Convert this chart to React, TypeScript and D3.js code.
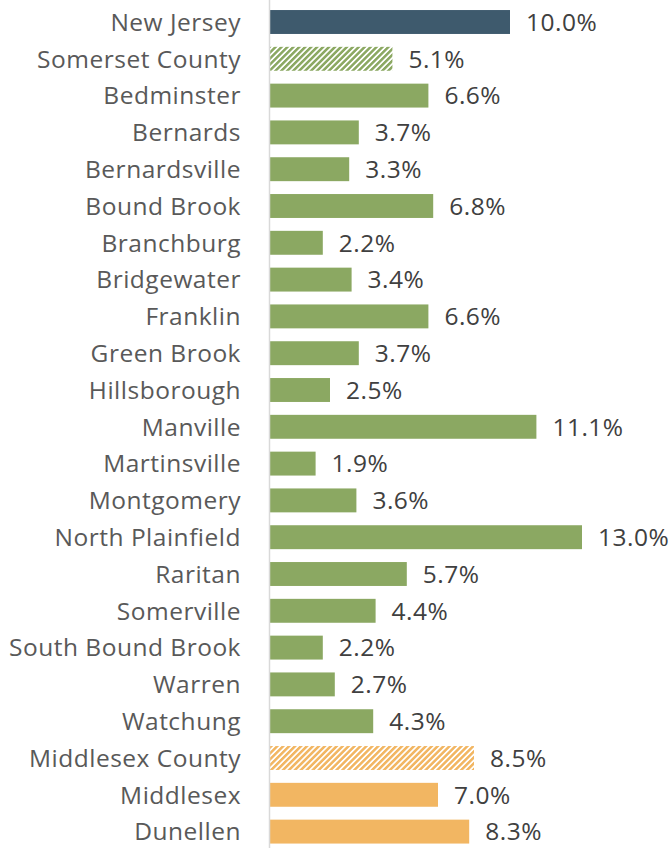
import React from "react";
import * as d3 from "d3";

const categories = [
  "New Jersey", "Somerset County", "Bedminster", "Bernards", "Bernardsville", "Bound Brook",
  "Branchburg", "Bridgewater", "Franklin", "Green Brook", "Hillsborough", "Manville",
  "Martinsville", "Montgomery", "North Plainfield", "Raritan", "Somerville", "South Bound Brook",
  "Warren", "Watchung", "Middlesex County", "Middlesex", "Dunellen",
];
const values = [10.0, 5.1, 6.6, 3.7, 3.3, 6.8, 2.2, 3.4, 6.6, 3.7, 2.5, 11.1, 1.9, 3.6, 13.0, 5.7, 4.4, 2.2, 2.7, 4.3, 8.5, 7.0, 8.3];
const groups = ["state", "county", "s", "s", "s", "s", "s", "s", "s", "s", "s", "s", "s", "s", "s", "s", "s", "s", "s", "s", "county2", "m", "m"];

const W = 672, H = 848;
const x0 = 270;

export default function App() {
  const x = d3.scaleLinear().domain([0, 10]).range([x0, x0 + 240]);
  const y = d3.scaleBand<string>().domain(categories).range([3.6, 850]).paddingInner(0.35).paddingOuter(0.175);
  const fillFor = (g: string) => {
    if (g === "state") return "#3e5a6d";
    if (g === "county") return "url(#hatchGreen)";
    if (g === "county2") return "url(#hatchOrange)";
    if (g === "m") return "#f2b662";
    return "#8ba862";
  };
  return (
    <svg width={W} height={H} style={{ position: "absolute", left: 0, top: 0, background: "#fff" }}
      fontFamily="'Open Sans', sans-serif">
      <defs>
        <pattern id="hatchGreen" patternUnits="userSpaceOnUse" width="4.2" height="4.2" patternTransform="rotate(45)">
          <rect width="4.2" height="4.2" fill="#ffffff" />
          <rect width="2.5" height="4.2" fill="#8ba862" />
        </pattern>
        <pattern id="hatchOrange" patternUnits="userSpaceOnUse" width="4.2" height="4.2" patternTransform="rotate(45)">
          <rect width="4.2" height="4.2" fill="#ffffff" />
          <rect width="2.5" height="4.2" fill="#f2b662" />
        </pattern>
      </defs>
      {categories.map((c, i) => {
        const yy = y(c)!;
        const bw = y.bandwidth();
        const cy = yy + bw / 2;
        return (
          <g key={c}>
            <rect x={x(0)} y={yy} width={x(values[i]) - x(0)} height={bw} fill={fillFor(groups[i])} />
            <text x={241} y={cy} dy="0.36em" textAnchor="end" fontSize={24.5} letterSpacing={0.5} fill="#595959">{c}</text>
            <text x={x(values[i]) + 16} y={cy} dy="0.36em" textAnchor="start" fontSize={24.5} letterSpacing={0.5} fill="#404040">
              {values[i].toFixed(1) + "%"}
            </text>
          </g>
        );
      })}
      <line x1={269.5} x2={269.5} y1={0} y2={H} stroke="#d9d9d9" strokeWidth={1.5} />
    </svg>
  );
}
